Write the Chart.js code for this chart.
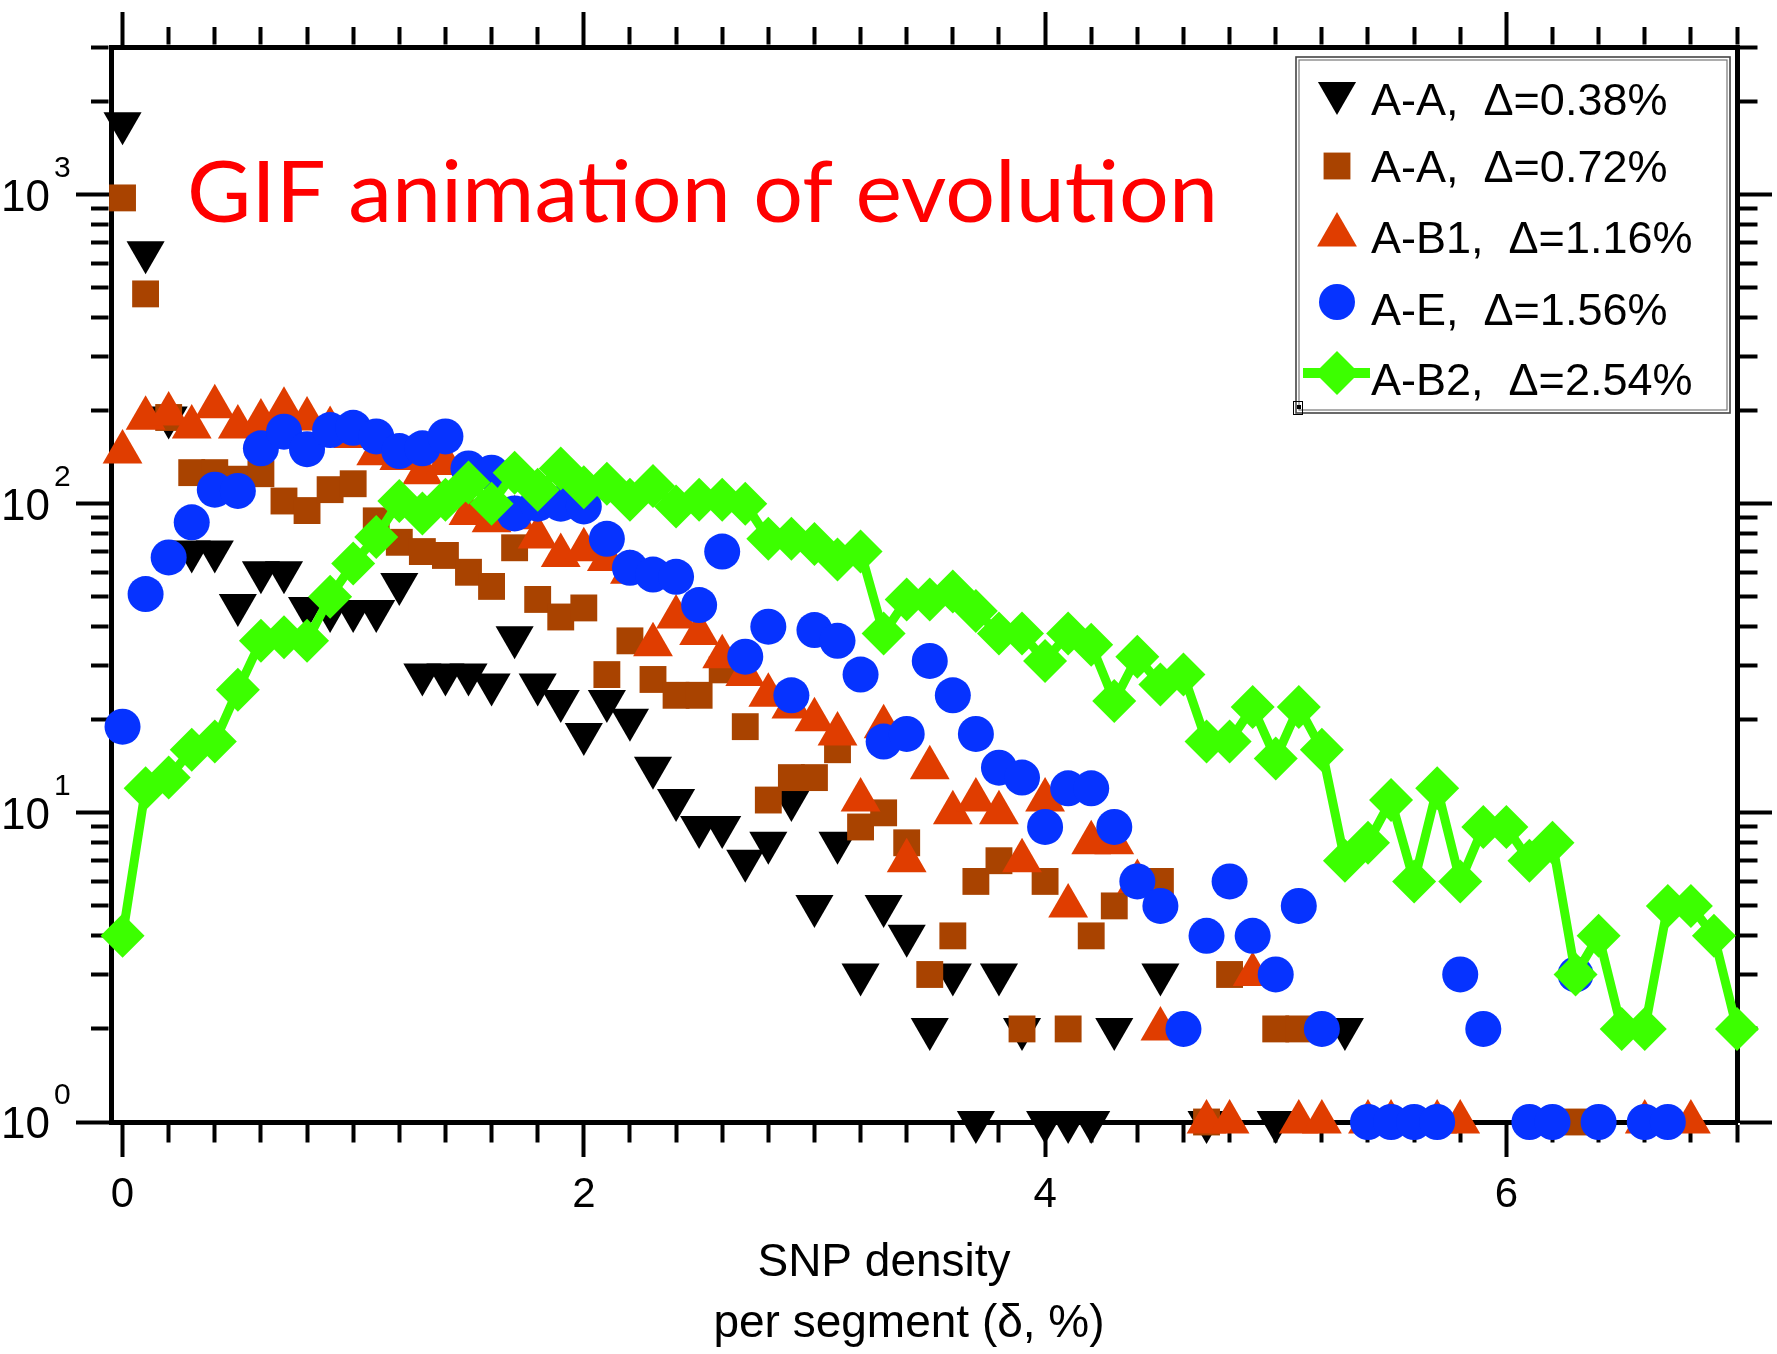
<!DOCTYPE html>
<html>
<head>
<meta charset="utf-8">
<script src="https://cdn.jsdelivr.net/npm/chart.js@4.4.1/dist/chart.umd.min.js"></script>
<style>
html,body{margin:0;padding:0;background:#ffffff;}
#wrap{position:relative;width:1777px;height:1354px;}
canvas{display:block;}
</style>
</head>
<body>
<div id="wrap"><canvas id="c" width="1777" height="1354"></canvas></div>
<script>
// ---------- data ----------
const snpDensity = [0.0,0.1,0.2,0.3,0.4,0.5,0.6,0.7,0.8,0.9,
  1.0,1.1,1.2,1.3,1.4,1.5,1.6,1.7,1.8,1.9,
  2.0,2.1,2.2,2.3,2.4,2.5,2.6,2.7,2.8,2.9,
  3.0,3.1,3.2,3.3,3.4,3.5,3.6,3.7,3.8,3.9,
  4.0,4.1,4.2,4.3,4.4,4.5,4.6,4.7,4.8,4.9,
  5.0,5.1,5.2,5.3,5.4,5.5,5.6,5.7,5.8,5.9,
  6.0,6.1,6.2,6.3,6.4,6.5,6.6,6.7,6.8,6.9,
  7.0];

const countAA038 = [1700,650,190,70,70,47,60,60,46,45,
  45,45,55,28,28,28,26,37,26,23,
  18,23,20,14,11,9,9,7,8,11,
  5,8,3,5,4,2,3,1,3,2,
  1,1,1,2,null,3,null,1,null,null,
  1,null,null,2,null,null,null,null,null,null,
  null,null,null,null,null,null,null,null,null,null,
  null];

const countAA072 = [975,477,190,126,126,120,125,102,95,111,
  116,88,75,70,68,60,54,72,49,43,
  46,28,36,27,24,24,29,19,11,13,
  13,16,9,10,8,3,4,6,7,2,
  6,2,4,5,null,6,null,1,3,null,
  2,2,null,null,null,null,null,null,null,null,
  null,null,null,1,null,null,null,null,null,null,
  null];

const countAB1 = [147,189,195,177,206,177,185,202,188,175,
  165,145,140,126,135,93,88,90,78,68,
  71,66,60,35,43,38,32,28,24,22,
  20,18,11,19,7,14,10,11,10,7,
  11,5,8,8,6,2,null,1,1,3,
  null,1,1,null,1,1,null,1,1,null,
  null,null,null,null,null,null,1,null,1,null,
  null];

const countAE = [19,51,67,87,111,110,151,171,150,173,
  176,165,148,151,165,130,126,93,100,100,
  98,77,62,59,58,47,70,32,40,24,
  39,36,28,17,18,31,24,18,14,13,
  9,12,12,9,6,5,2,4,6,4,
  3,5,2,null,1,1,1,1,3,2,
  null,1,1,3,1,null,1,1,null,null,
  null];

const countAB2 = [4,12,13,16,17,25,36,37,36,50,
  64,78,102,93,103,117,100,126,111,130,
  113,116,103,114,98,103,103,100,77,77,
  74,66,70,38,49,49,52,45,38,38,
  31,38,35,23,32,26,28,17,17,22,
  15,22,16,7,8,11,6,12,6,9,
  9,7,8,3,4,2,2,5,5,4,
  2];

const seriesLabels = ['A-A,  \u0394=0.38%','A-A,  \u0394=0.72%','A-B1,  \u0394=1.16%','A-E,  \u0394=1.56%','A-B2,  \u0394=2.54%'];

// tick labels / tick positions
const xTickValues = [0,0.2,0.4,0.6,0.8,1,1.2,1.4,1.6,1.8,2,2.2,2.4,2.6,2.8,3,3.2,3.4,3.6,3.8,
  4,4.2,4.4,4.6,4.8,5,5.2,5.4,5.6,5.8,6,6.2,6.4,6.6,6.8,7];
const xMajorTicks = [0,2,4,6];
const yTickValues = [1,2,3,4,5,6,7,8,9,10,20,30,40,50,60,70,80,90,
  100,200,300,400,500,600,700,800,900,1000,2000,3000];
const yDecades = [1,10,100,1000];
const yDecadeExponents = ['0','1','2','3'];
const xTitleLines = ['SNP density','per segment (\u03b4, %)'];
const annotationText = 'GIF animation of evolution';

// ---------- styling ----------
const FONT = '"Liberation Sans", Arial, Helvetica, sans-serif';
const MAJOR_LEN = 35, MINOR_LEN = 20, AXIS_W = 5, TICK_W = 4;
const DASH_PERIOD = (MINOR_LEN - AXIS_W/2) + 2000;
const outerFirstOffset = DASH_PERIOD - ((MAJOR_LEN - AXIS_W/2) - (MINOR_LEN - AXIS_W/2));

function pts(arr){
  return snpDensity.map((x,i)=>({x:x, y:arr[i]})).filter(p=>p.y!==null);
}
function tickGrid(outerFirst){
  return {
    display:true, drawOnChartArea:false, drawTicks:true,
    tickLength:MAJOR_LEN, tickWidth:TICK_W, tickColor:'#000',
    tickBorderDash: c => (c.tick && c.tick.major) ? [] : [MINOR_LEN - AXIS_W/2, 2000],
    tickBorderDashOffset: c => (c.tick && c.tick.major) ? 0 : (outerFirst ? outerFirstOffset : 0)
  };
}
const border = {display:true, color:'#000', width:AXIS_W};
const xTicksBuild = s => { s.ticks = xTickValues.map(v => ({value:v, major: xMajorTicks.includes(v)})); };
const yTicksBuild = s => { s.ticks = yTickValues.map(v => ({value:v, major: yDecades.includes(v)})); };

const datasets = [
  {label:seriesLabels[0], data:pts(countAA038), pointStyle:'triangle', pointRotation:180, pointRadius:22,
   backgroundColor:'#000000', borderColor:'#000000', pointBorderWidth:0, showLine:false, order:5, clip:false},
  {label:seriesLabels[1], data:pts(countAA072), pointStyle:'rect', pointRadius:19,
   backgroundColor:'#A94300', borderColor:'#A94300', pointBorderWidth:0, showLine:false, order:4, clip:false},
  {label:seriesLabels[2], data:pts(countAB1), pointStyle:'triangle', pointRotation:0, pointRadius:23,
   backgroundColor:'#E03D00', borderColor:'#E03D00', pointBorderWidth:0, showLine:false, order:3, clip:false},
  {label:seriesLabels[3], data:pts(countAE), pointStyle:'circle', pointRadius:18,
   backgroundColor:'#0633FF', borderColor:'#0633FF', pointBorderWidth:0, showLine:false, order:2, clip:false},
  {label:seriesLabels[4], data:pts(countAB2), pointStyle:'rectRot', pointRadius:22,
   backgroundColor:'#3CFF00', borderColor:'#3CFF00', pointBorderWidth:0, borderWidth:9,
   showLine:true, tension:0, borderJoinStyle:'round', borderCapStyle:'round', order:1, clip:false}
];

const refPlugin = {
  id:'refText',
  afterDraw(chart){
    const ctx = chart.ctx;
    const ys = chart.scales.y;
    ctx.save();
    // y decade labels 10^n
    ctx.fillStyle = '#000';
    yDecades.forEach((v,i)=>{
      const py = ys.getPixelForValue(v);
      ctx.font = '44px ' + FONT;
      ctx.textAlign = 'right'; ctx.textBaseline = 'alphabetic';
      ctx.fillText('10', ys.right - 61, py + 16);
      ctx.font = '30px ' + FONT;
      ctx.textAlign = 'left';
      ctx.fillText(yDecadeExponents[i], ys.right - 57, py - 18);
    });
    // x axis title (two lines)
    ctx.font = '46px ' + FONT;
    ctx.textAlign = 'center'; ctx.textBaseline = 'alphabetic';
    ctx.fillText(xTitleLines[0], 884, 1276);
    ctx.fillText(xTitleLines[1], 909, 1337);
    // red annotation
    ctx.font = '86px Lato, "Open Sans", "Noto Sans", sans-serif';
    const w = ctx.measureText(annotationText).width;
    ctx.save();
    ctx.translate(187, 222);
    ctx.scale(1031 / w, 1);
    ctx.fillStyle = '#FF0000';
    ctx.textAlign = 'left';
    ctx.fillText(annotationText, 0, 0);
    ctx.restore();
    // legend box
    const L = 1296, T = 57, R = 1730, B = 413;
    ctx.fillStyle = '#ffffff';
    ctx.fillRect(L, T, R - L, B - T);
    ctx.strokeStyle = '#444'; ctx.lineWidth = 1.6;
    ctx.strokeRect(L, T, R - L, B - T);
    ctx.strokeStyle = '#777'; ctx.lineWidth = 1.2;
    ctx.strokeRect(L + 3, T + 3, R - L - 6, B - T - 6);
    ctx.fillStyle = '#000';
    ctx.fillRect(L + 1, B - 8, 4, 4);
    ctx.strokeStyle = '#000'; ctx.lineWidth = 1;
    ctx.strokeRect(L - 2.5, B - 11.5, 9, 13);
    const markerY = [93, 166, 235, 302, 373];
    const textBase = [115, 182, 253, 325, 395];
    const mx = 1337;
    chart.data.datasets.forEach((d,i)=>{
      ctx.fillStyle = d.backgroundColor;
      ctx.strokeStyle = d.backgroundColor;
      if (d.showLine){
        ctx.lineWidth = 10;
        ctx.beginPath(); ctx.moveTo(1303, markerY[i]); ctx.lineTo(1370, markerY[i]); ctx.stroke();
      }
      Chart.helpers.drawPoint(ctx, {pointStyle:d.pointStyle, rotation:d.pointRotation||0, radius:d.pointRadius, borderWidth:0}, mx, markerY[i]);
      ctx.fillStyle = '#000';
      ctx.font = '45px ' + FONT;
      ctx.textAlign = 'left'; ctx.textBaseline = 'alphabetic';
      ctx.fillText(d.label, 1371, textBase[i]);
    });
    ctx.restore();
  }
};

new Chart(document.getElementById('c'), {
  type:'scatter',
  data:{datasets:datasets},
  options:{
    responsive:false, animation:false, devicePixelRatio:1, events:[],
    layout:{padding:0},
    plugins:{legend:{display:false}, tooltip:{enabled:false}, title:{display:false}},
    scales:{
      x:{type:'linear', position:'bottom', min:-0.05, max:7.0,
         afterBuildTicks:xTicksBuild, afterFit:s=>{s.height = 232;},
         ticks:{autoSkip:false, maxRotation:0, minRotation:0, padding:13, color:'#000',
                font:{family:FONT, size:42},
                callback:v => xMajorTicks.includes(v) ? String(v) : ''},
         grid:tickGrid(false), border:border},
      x2:{type:'linear', position:'top', min:-0.05, max:7.0,
         afterBuildTicks:xTicksBuild, afterFit:s=>{s.height = 47;},
         ticks:{display:false}, grid:tickGrid(true), border:border},
      y:{type:'logarithmic', position:'left', min:1, max:3000,
         afterBuildTicks:yTicksBuild, afterFit:s=>{s.width = 111;},
         ticks:{display:false}, grid:tickGrid(true), border:border},
      y2:{type:'logarithmic', position:'right', min:1, max:3000,
         afterBuildTicks:yTicksBuild, afterFit:s=>{s.width = 40;},
         ticks:{display:false}, grid:tickGrid(false), border:border}
    }
  },
  plugins:[refPlugin]
});
</script>
</body>
</html>
